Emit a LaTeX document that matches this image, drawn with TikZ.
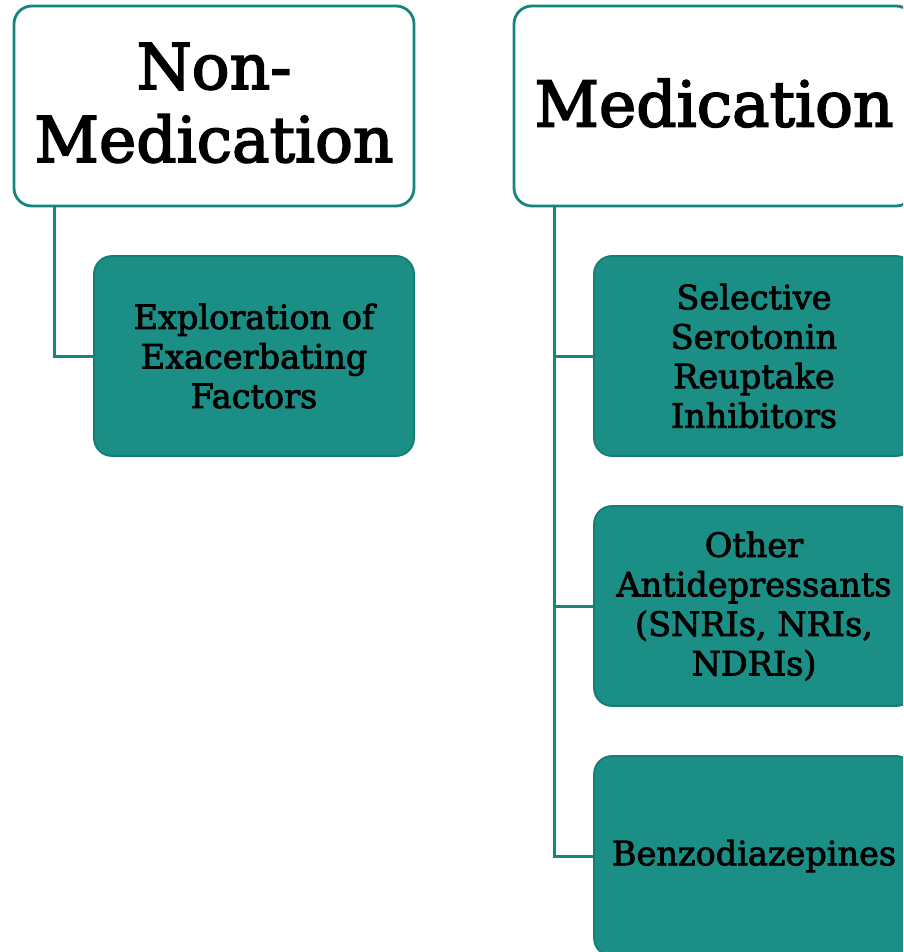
\documentclass[tikz,border=0pt]{standalone}
\usepackage{fontspec}
\setmainfont{DejaVu Serif}
\definecolor{tealline}{RGB}{22,133,125}
\definecolor{tealfill}{RGB}{27,142,133}
\definecolor{tealedge}{RGB}{20,126,118}
% thicken glyphs by stroking their outlines as well as filling them
\newcommand\heavyon[1]{\special{pdf:literal direct 2 Tr #1 w 0 0 0 RG}}
\newcommand\heavyoff{\special{pdf:literal direct 0 Tr}}
\begin{document}
\begin{tikzpicture}[x=1pt,y=-1pt,
  headbox/.style={draw=tealline, line width=2.8pt, fill=white, rounded corners=18pt,
    minimum width=400pt, minimum height=200pt, inner sep=0pt},
  headtext/.style={align=center, inner sep=0pt,
    font=\fontsize{63}{73}\selectfont,
    execute at begin node=\heavyon{1.7}, execute at end node=\heavyoff},
  itembox/.style={draw=tealedge, line width=1.8pt, fill=tealfill, rounded corners=18pt,
    minimum width=320pt, minimum height=200pt, inner sep=0pt, align=center,
    font=\fontsize{33.5}{39.5}\selectfont,
    execute at begin node=\heavyon{0.8}, execute at end node=\heavyoff},
  link/.style={draw=tealline, line width=3pt}]
\clip (0,0) rectangle (903,952);
\fill[white] (0,0) rectangle (903,952);

% top-level categories
\node[headbox] (nonmed) at (214,106) {};
\node[headtext] (nonmedtext) at (214,103) {Non-\\Medication};
\node[headbox] (med) at (714,106) {};
\node[headtext] (medtext) at (714,103) {Medication};

% sub-items
\node[itembox] (explore) at (254,356) {Exploration of\\Exacerbating\\Factors};
\node[itembox] (ssri) at (754,356) {Selective\\Serotonin\\Reuptake\\Inhibitors};
\node[itembox] (other) at (754,606) {Other\\Antidepressants\\(SNRIs, NRIs,\\NDRIs)};
\node[itembox] (benzo) at (754,856) {Benzodiazepines};

% connectors
\coordinate (nmtrunk) at (54,206);
\coordinate (mtrunk) at (554,206);
\draw[link] (nmtrunk) |- (explore.west);
\draw[link] (mtrunk) |- (ssri.west);
\draw[link] (mtrunk) |- (other.west);
\draw[link] (mtrunk) |- (benzo.west);
\end{tikzpicture}
\end{document}
